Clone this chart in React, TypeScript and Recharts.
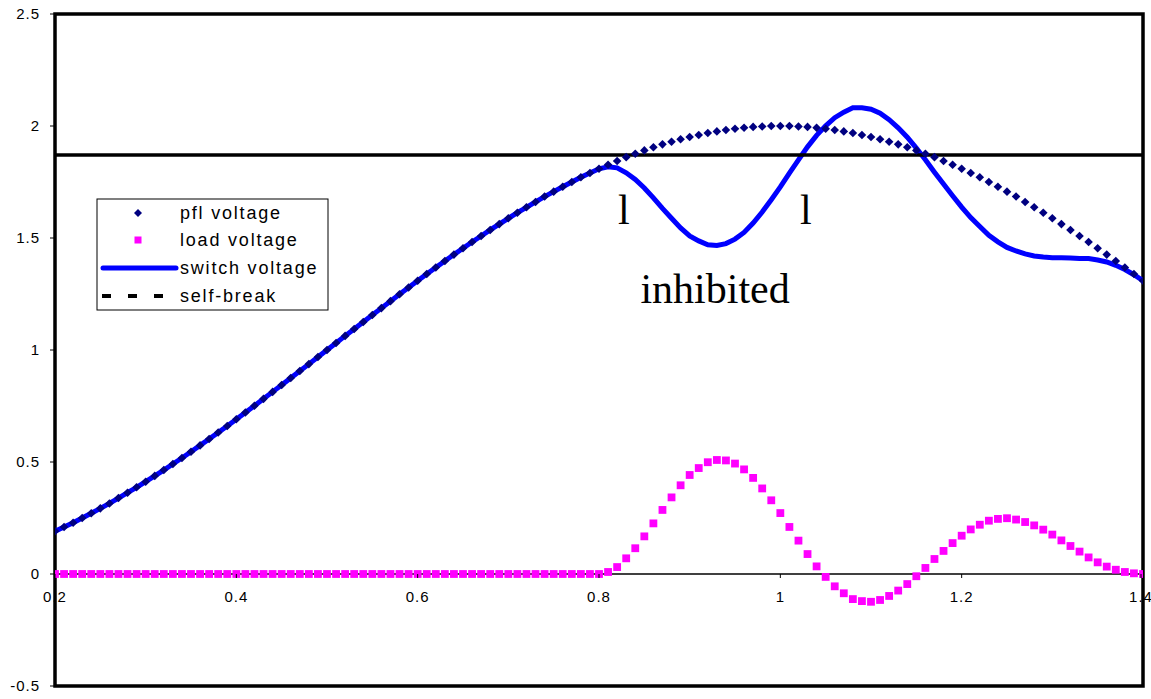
import React from 'react';
import { ComposedChart, Line, XAxis, YAxis, ReferenceLine, ReferenceArea, ReferenceDot } from 'recharts';

const T = [
  0.2, 0.21, 0.22, 0.23, 0.24, 0.25, 0.26, 0.27, 0.28, 0.29,
  0.3, 0.31, 0.32, 0.33, 0.34, 0.35, 0.36, 0.37, 0.38, 0.39,
  0.4, 0.41, 0.42, 0.43, 0.44, 0.45, 0.46, 0.47, 0.48, 0.49,
  0.5, 0.51, 0.52, 0.53, 0.54, 0.55, 0.56, 0.57, 0.58, 0.59,
  0.6, 0.61, 0.62, 0.63, 0.64, 0.65, 0.66, 0.67, 0.68, 0.69,
  0.7, 0.71, 0.72, 0.73, 0.74, 0.75, 0.76, 0.77, 0.78, 0.79,
  0.8, 0.81, 0.82, 0.83, 0.84, 0.85, 0.86, 0.87, 0.88, 0.89,
  0.9, 0.91, 0.92, 0.93, 0.94, 0.95, 0.96, 0.97, 0.98, 0.99,
  1.0, 1.01, 1.02, 1.03, 1.04, 1.05, 1.06, 1.07, 1.08, 1.09,
  1.1, 1.11, 1.12, 1.13, 1.14, 1.15, 1.16, 1.17, 1.18, 1.19,
  1.2, 1.21, 1.22, 1.23, 1.24, 1.25, 1.26, 1.27, 1.28, 1.29,
  1.3, 1.31, 1.32, 1.33, 1.34, 1.35, 1.36, 1.37, 1.38, 1.39,
  1.4,
];

const PFL = [
  0.191, 0.210, 0.229, 0.250, 0.271, 0.293, 0.315, 0.339, 0.363, 0.387,
  0.412, 0.438, 0.464, 0.491, 0.518, 0.546, 0.574, 0.603, 0.632, 0.661,
  0.691, 0.721, 0.751, 0.782, 0.813, 0.844, 0.875, 0.906, 0.937, 0.969,
  1.000, 1.031, 1.063, 1.094, 1.125, 1.156, 1.187, 1.218, 1.249, 1.279,
  1.309, 1.339, 1.368, 1.397, 1.426, 1.454, 1.482, 1.509, 1.536, 1.562,
  1.588, 1.613, 1.637, 1.661, 1.685, 1.707, 1.729, 1.750, 1.771, 1.790,
  1.809, 1.827, 1.844, 1.861, 1.876, 1.891, 1.905, 1.918, 1.930, 1.941,
  1.951, 1.960, 1.969, 1.976, 1.982, 1.988, 1.992, 1.996, 1.998, 2.000,
  2.000, 2.000, 1.998, 1.996, 1.992, 1.988, 1.982, 1.976, 1.969, 1.960,
  1.951, 1.941, 1.930, 1.918, 1.905, 1.891, 1.876, 1.861, 1.844, 1.827,
  1.809, 1.790, 1.771, 1.750, 1.729, 1.707, 1.685, 1.661, 1.637, 1.613,
  1.588, 1.562, 1.536, 1.509, 1.482, 1.454, 1.426, 1.397, 1.368, 1.339,
  1.309,
];

const LOAD = [
  0, 0, 0, 0, 0, 0, 0, 0, 0, 0,
  0, 0, 0, 0, 0, 0, 0, 0, 0, 0,
  0, 0, 0, 0, 0, 0, 0, 0, 0, 0,
  0, 0, 0, 0, 0, 0, 0, 0, 0, 0,
  0, 0, 0, 0, 0, 0, 0, 0, 0, 0,
  0, 0, 0, 0, 0, 0, 0, 0, 0, 0,
  0, 0.009, 0.031, 0.070, 0.115, 0.168, 0.226, 0.286, 0.342, 0.396,
  0.442, 0.473, 0.499, 0.509, 0.507, 0.493, 0.467, 0.429, 0.382, 0.329,
  0.272, 0.210, 0.149, 0.089, 0.034, -0.013, -0.055, -0.086, -0.112, -0.121,
  -0.124, -0.116, -0.098, -0.074, -0.045, -0.010, 0.027, 0.067, 0.103, 0.138,
  0.171, 0.199, 0.220, 0.238, 0.246, 0.249, 0.243, 0.232, 0.217, 0.198,
  0.176, 0.150, 0.125, 0.100, 0.074, 0.052, 0.033, 0.019, 0.009, 0.003,
  0.000,
];

const SWITCH = [
  0.191, 0.210, 0.229, 0.250, 0.271, 0.293, 0.315, 0.339, 0.363, 0.387,
  0.412, 0.438, 0.464, 0.491, 0.518, 0.546, 0.574, 0.603, 0.632, 0.661,
  0.691, 0.721, 0.751, 0.782, 0.813, 0.844, 0.875, 0.906, 0.937, 0.969,
  1.000, 1.031, 1.063, 1.094, 1.125, 1.156, 1.187, 1.218, 1.249, 1.279,
  1.309, 1.339, 1.368, 1.397, 1.426, 1.454, 1.482, 1.509, 1.536, 1.562,
  1.588, 1.613, 1.637, 1.661, 1.685, 1.707, 1.729, 1.750, 1.771, 1.790,
  1.809, 1.818, 1.813, 1.791, 1.761, 1.723, 1.679, 1.632, 1.588, 1.545,
  1.509, 1.487, 1.470, 1.467, 1.475, 1.495, 1.525, 1.567, 1.616, 1.671,
  1.728, 1.790, 1.849, 1.907, 1.958, 2.001, 2.037, 2.062, 2.081, 2.081,
  2.075, 2.057, 2.028, 1.992, 1.950, 1.901, 1.849, 1.794, 1.741, 1.689,
  1.638, 1.591, 1.551, 1.512, 1.483, 1.458, 1.442, 1.429, 1.420, 1.415,
  1.412, 1.412, 1.411, 1.409, 1.408, 1.402, 1.393, 1.378, 1.359, 1.336,
  1.309,
];

const SB_T = [0.2, 1.4];
const SB_V = [1.87, 1.87];

const X_TICKS = [0.2, 0.4, 0.6, 0.8, 1, 1.2, 1.4];
const Y_TICKS = [-0.5, 0, 0.5, 1, 1.5, 2, 2.5];

const LEGEND_ITEMS = ['pfl voltage', 'load voltage', 'switch voltage', 'self-break'];

const W = 1151;
const H = 699;
const MARGIN = { top: 14, right: 8, bottom: 0, left: 0 };
const Y_AXIS_W = 55;
const X_AXIS_H = 13;
const Y_MIN = -0.5;
const Y_MAX = 2.5;
const PLOT_H = H - MARGIN.top - MARGIN.bottom - X_AXIS_H;
const ZERO_Y = MARGIN.top + (PLOT_H * (Y_MAX - 0)) / (Y_MAX - Y_MIN);

const SANS = '"Liberation Sans", Arial, Helvetica, sans-serif';
const SERIF = '"Liberation Serif", "Times New Roman", serif';

const data = T.map((t, i) => ({ t, pfl: PFL[i], load: LOAD[i], sw: SWITCH[i] }));
const sbData = SB_T.map((t, i) => ({ t, sb: SB_V[i] }));

const Diamond = (p: any) => {
  if (p.cx == null || p.cy == null) return <g key={`dn${p.index}`} />;
  const s = 4.3;
  return (
    <polygon
      key={`d${p.index}`}
      points={`${p.cx},${p.cy - s} ${p.cx + s},${p.cy} ${p.cx},${p.cy + s} ${p.cx - s},${p.cy}`}
      fill="#000080"
    />
  );
};

const Square = (p: any) => {
  if (p.cx == null || p.cy == null) return <g key={`sn${p.index}`} />;
  const s = 3.9;
  return <rect key={`s${p.index}`} x={p.cx - s} y={p.cy - s} width={2 * s} height={2 * s} fill="#FF00FF" />;
};

const XTick = (p: any) => (
  <g>
    <line x1={p.x} x2={p.x} y1={ZERO_Y} y2={ZERO_Y + 4} stroke="#000" strokeWidth={1} />
    <text
      x={p.x}
      y={ZERO_Y + 28}
      textAnchor="middle"
      fontSize={15}
      fontFamily={SANS}
      letterSpacing={1}
      fill="#000"
    >
      {p.payload.value}
    </text>
  </g>
);

const textShape = (label: string) => (p: any) => (
  <text x={p.cx} y={p.cy} textAnchor="middle" fontSize={42} fontFamily={SERIF} fill="#000">
    {label}
  </text>
);

const Legend = () => {
  const rowY = [15, 42, 70, 98];
  return (
    <svg
      width={234}
      height={113}
      style={{ position: 'absolute', left: 96, top: 198 }}
    >
      <rect x={1} y={1} width={231} height={111} fill="#fff" stroke="#000" strokeWidth={1} />
      <polygon
        points={`42,${rowY[0] - 4} 46,${rowY[0]} 42,${rowY[0] + 4} 38,${rowY[0]}`}
        fill="#000080"
      />
      <rect x={38.5} y={rowY[1] - 3.5} width={7} height={7} fill="#FF00FF" />
      <line x1={7} x2={80} y1={rowY[2]} y2={rowY[2]} stroke="#0000FF" strokeWidth={5} strokeLinecap="round" />
      <line x1={6} x2={67} y1={rowY[3]} y2={rowY[3]} stroke="#000" strokeWidth={4} strokeDasharray="9 17" />
      {LEGEND_ITEMS.map((s, i) => (
        <text
          key={s}
          x={84}
          y={rowY[i]}
          dominantBaseline="central"
          fontSize={18}
          fontFamily={SANS}
          letterSpacing={1.8}
          fill="#000"
        >
          {s}
        </text>
      ))}
    </svg>
  );
};

export default function App() {
  return (
    <div style={{ position: 'absolute', left: 0, top: 0, width: W, height: H, background: '#fff' }}>
      <ComposedChart width={W} height={H} data={data} margin={MARGIN}>
        <XAxis
          dataKey="t"
          type="number"
          domain={[0.2, 1.4]}
          ticks={X_TICKS}
          axisLine={false}
          tickLine={false}
          tick={<XTick />}
          height={X_AXIS_H}
          allowDataOverflow
        />
        <YAxis
          type="number"
          domain={[Y_MIN, Y_MAX]}
          ticks={Y_TICKS}
          width={Y_AXIS_W}
          axisLine={false}
          tickLine={{ stroke: '#000' }}
          tickSize={5}
          tickMargin={10}
          tick={{ fontSize: 15, fill: '#000', fontFamily: SANS, letterSpacing: 1 }}
          allowDataOverflow
        />
        <ReferenceLine y={0} stroke="#000" strokeWidth={1.5} />
        <Line
          dataKey="sw"
          stroke="#0000FF"
          strokeWidth={5}
          dot={false}
          activeDot={false}
          isAnimationActive={false}
          type="linear"
        />
        <Line
          dataKey="pfl"
          stroke="none"
          dot={Diamond}
          activeDot={false}
          isAnimationActive={false}
        />
        <Line
          dataKey="load"
          stroke="none"
          dot={Square}
          activeDot={false}
          isAnimationActive={false}
        />
        <Line
          data={sbData}
          dataKey="sb"
          stroke="#000"
          strokeWidth={3.5}
          dot={false}
          activeDot={false}
          isAnimationActive={false}
        />
        <ReferenceDot x={0.8275} y={1.5625} r={0} shape={textShape('l')} ifOverflow="visible" />
        <ReferenceDot x={1.028} y={1.5625} r={0} shape={textShape('l')} ifOverflow="visible" />
        <ReferenceDot x={0.928} y={1.21} r={0} shape={textShape('inhibited')} ifOverflow="visible" />
        <ReferenceArea
          x1={0.2}
          x2={1.4}
          y1={Y_MIN}
          y2={Y_MAX}
          fill="none"
          fillOpacity={0}
          stroke="#000"
          strokeWidth={3.5}
          ifOverflow="visible"
        />
      </ComposedChart>
      <Legend />
    </div>
  );
}
